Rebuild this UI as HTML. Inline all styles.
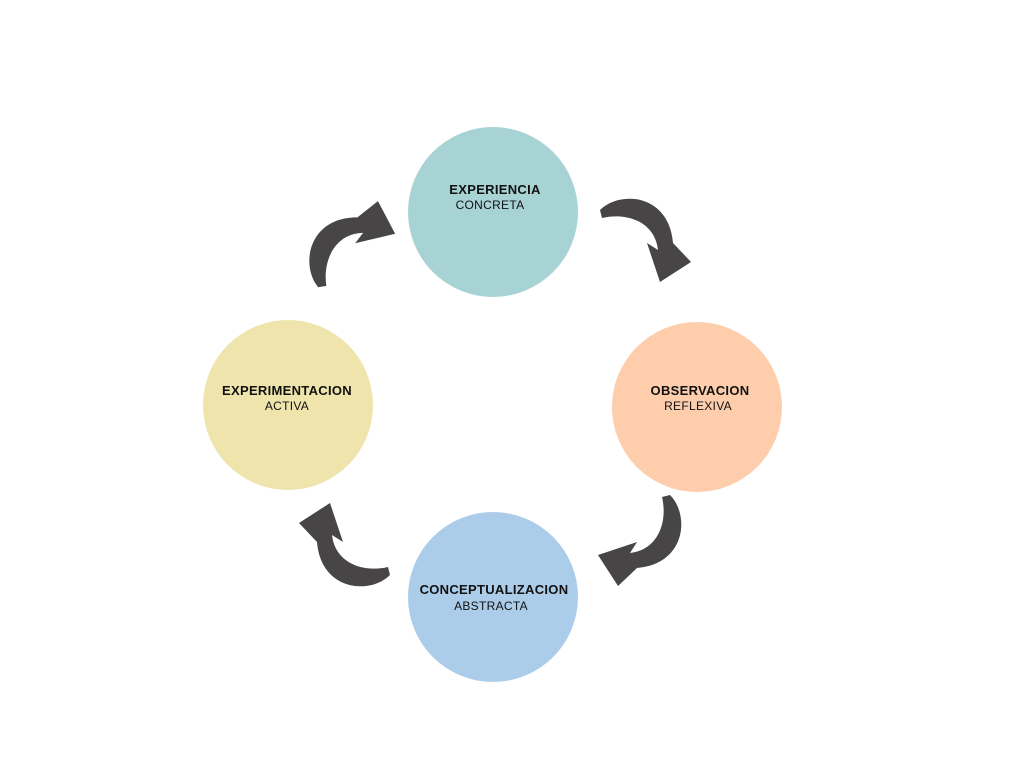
<!DOCTYPE html>
<html><head><style>
body{margin:0;width:1024px;height:768px;background:#fff;overflow:hidden}
</style></head><body>
<svg width="1024" height="768" xmlns="http://www.w3.org/2000/svg" font-family="Liberation Sans, sans-serif">
<defs>
<path id="ar" d="M -45,-30 C -25,-50 24,-46 28,3 L 46,22 L 15,42 L 2,3 L 13,10 C 10,-18 -18,-28 -43,-22 Z" fill="#474546"/>
</defs>
<circle cx="493" cy="212" r="85" fill="#a8d3d5"/>
<circle cx="697" cy="407" r="85" fill="#fdcdac"/>
<circle cx="288" cy="405" r="85" fill="#eee4ac"/>
<circle cx="493" cy="597" r="85" fill="#abcde9"/>
<use href="#ar" transform="translate(645,240)"/>
<use href="#ar" transform="translate(640,540) rotate(90)"/>
<use href="#ar" transform="translate(345,545) rotate(180)"/>
<use href="#ar" transform="translate(352,245) rotate(275)"/>
<g font-size="13" text-anchor="middle" fill="#111">
<text x="495" y="194" font-weight="bold" letter-spacing="0.3">EXPERIENCIA</text>
<text x="490" y="209" font-size="12" letter-spacing="0.3">CONCRETA</text>
<text x="700" y="395" font-weight="bold" letter-spacing="0.3">OBSERVACION</text>
<text x="698" y="410" font-size="12" letter-spacing="0.3">REFLEXIVA</text>
<text x="287" y="395" font-weight="bold" letter-spacing="0.3">EXPERIMENTACION</text>
<text x="287" y="410" font-size="12" letter-spacing="0.3">ACTIVA</text>
<text x="494" y="594" font-weight="bold" letter-spacing="0.3">CONCEPTUALIZACION</text>
<text x="491" y="610" font-size="12" letter-spacing="0.3">ABSTRACTA</text>
</g>
</svg>
</body></html>
